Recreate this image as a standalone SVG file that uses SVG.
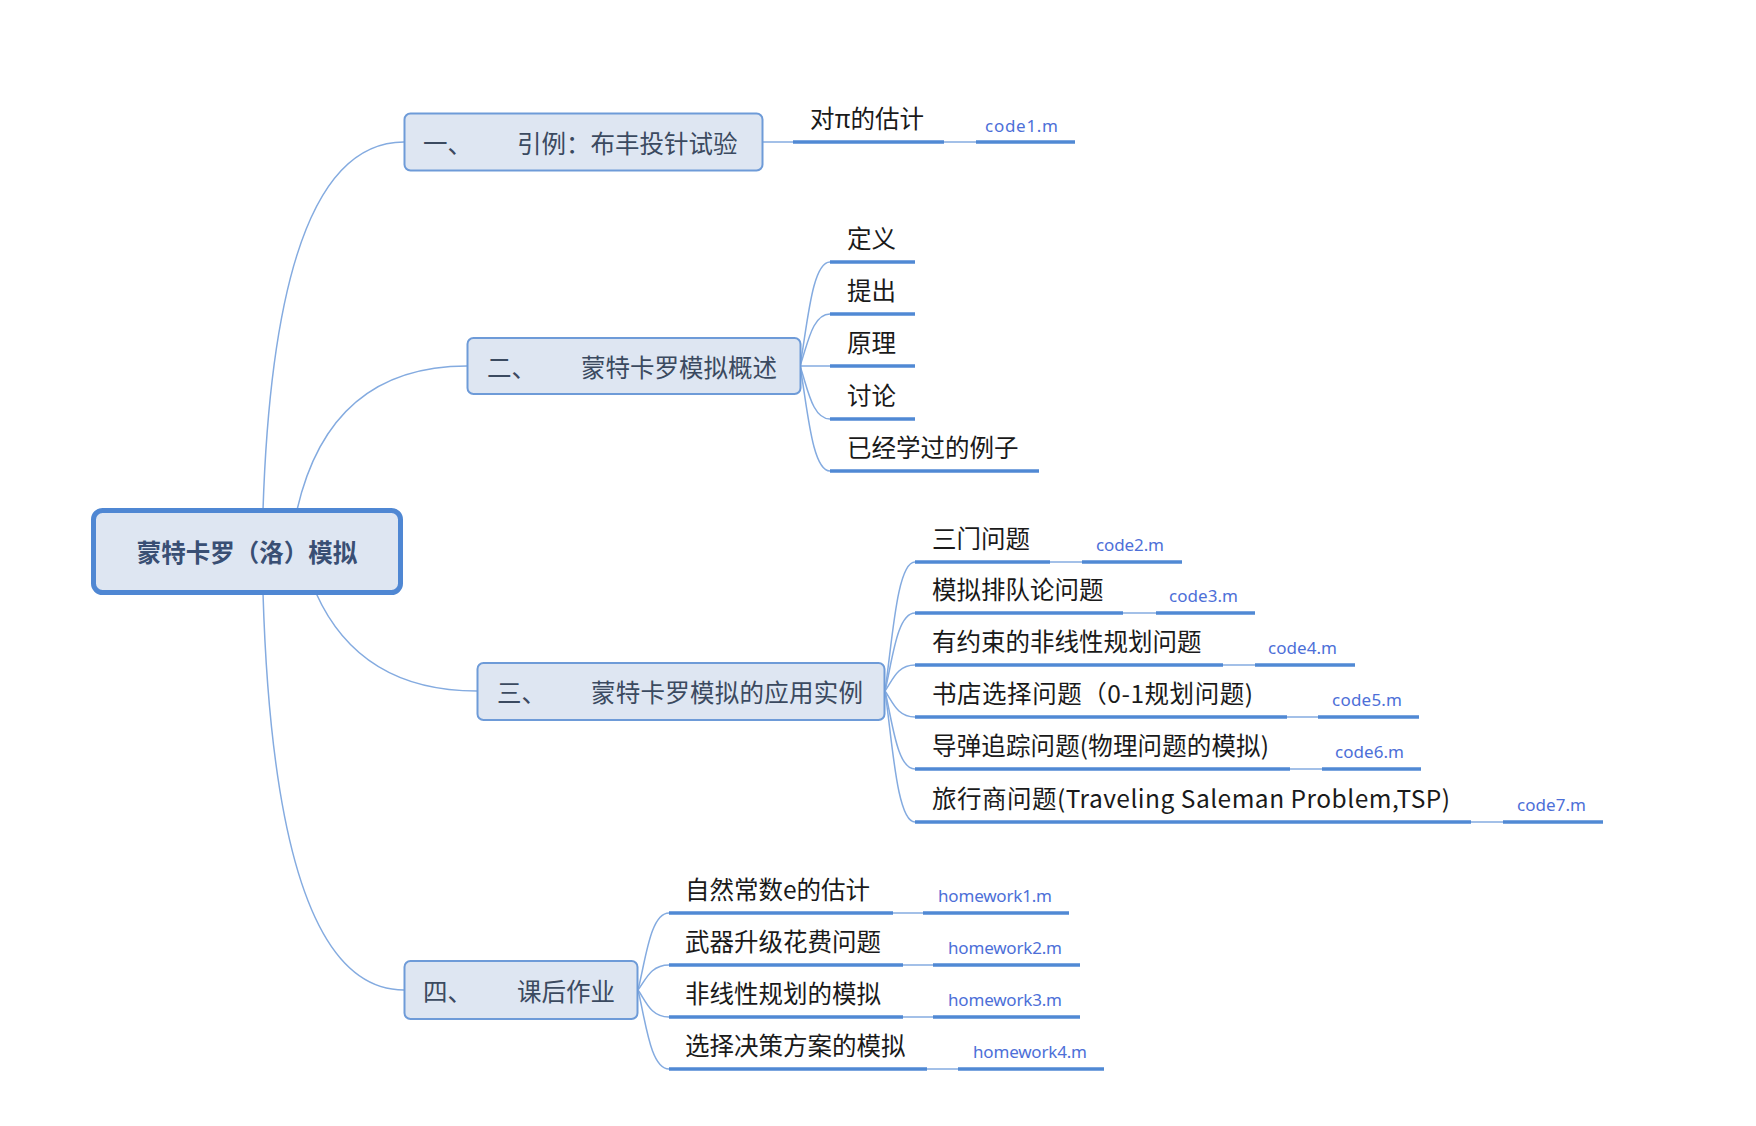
<svg xmlns="http://www.w3.org/2000/svg" width="1756" height="1126" viewBox="0 0 1756 1126">
<style>
.bg{fill:#ffffff}
.box{fill:#dee6f2;stroke:#6e9bd8;stroke-width:2}
.root{fill:#dee6f2;stroke:#4f87d3;stroke-width:5}
.conn{fill:none;stroke:#84abe0;stroke-width:1.5}
.ul{stroke:#5089d4;stroke-width:3.5;fill:none}
.bt{font-family:"Noto Sans CJK SC","Microsoft YaHei",sans-serif;font-size:24.5px;fill:#3b4a60;dominant-baseline:central}
.rt{font-family:"Noto Sans CJK SC","Microsoft YaHei",sans-serif;font-size:24.5px;font-weight:bold;fill:#394f74;dominant-baseline:central;text-anchor:middle}
.t{font-family:"Noto Sans CJK SC","Microsoft YaHei",sans-serif;font-size:24.5px;fill:#1a1a1a}
.c{font-family:"Noto Sans","Open Sans",sans-serif;font-size:17px;fill:#4d6fd8}
</style>
<rect class="bg" x="0" y="0" width="1756" height="1126"/>

<g id="connectors">
<path class="conn" d="M 263 510 Q 275 142 404 142"/>
<path class="conn" d="M 297 510 Q 330 366 467 366"/>
<path class="conn" d="M 316 593 Q 360 691 477 691"/>
<path class="conn" d="M 263 593 Q 275 990 404 990"/>

<path class="conn" d="M 763 142 L 793 142"/>
<path class="conn" d="M 944 142 L 976 142"/>

<path class="conn" d="M 800 366 C 807.5 324.4 812 262 830 262"/>
<path class="conn" d="M 800 366 C 807.5 345.2 812 314 830 314"/>
<path class="conn" d="M 800 366 L 830 366"/>
<path class="conn" d="M 800 366 C 807.5 387.2 812 419 830 419"/>
<path class="conn" d="M 800 366 C 807.5 408 812 471 830 471"/>

<path class="conn" d="M 885 691 C 892.5 639.4 897 562 915 562"/>
<path class="conn" d="M 885 691 C 892.5 659.8 897 613 915 613"/>
<path class="conn" d="M 885 691 C 892.5 680.6 897 665 915 665"/>
<path class="conn" d="M 885 691 C 892.5 701.4 897 717 915 717"/>
<path class="conn" d="M 885 691 C 892.5 722.2 897 769 915 769"/>
<path class="conn" d="M 885 691 C 892.5 743.4 897 822 915 822"/>
<path class="conn" d="M 1050 562 L 1082 562"/>
<path class="conn" d="M 1123 613 L 1156 613"/>
<path class="conn" d="M 1223 665 L 1255 665"/>
<path class="conn" d="M 1287 717 L 1318 717"/>
<path class="conn" d="M 1290 769 L 1322 769"/>
<path class="conn" d="M 1471 822 L 1503 822"/>

<path class="conn" d="M 638 990 C 645.75 959.2 650.4 913 669 913"/>
<path class="conn" d="M 638 990 C 645.75 980 650.4 965 669 965"/>
<path class="conn" d="M 638 990 C 645.75 1000.8 650.4 1017 669 1017"/>
<path class="conn" d="M 638 990 C 645.75 1021.6 650.4 1069 669 1069"/>
<path class="conn" d="M 893 913 L 923 913"/>
<path class="conn" d="M 903 965 L 933 965"/>
<path class="conn" d="M 903 1017 L 933 1017"/>
<path class="conn" d="M 927 1069 L 958 1069"/>
</g>

<g id="root">
<rect class="root" x="93.5" y="510.5" width="307" height="82" rx="9"/>
<text class="rt" x="247" y="551">蒙特卡罗（洛）模拟</text>
</g>

<g id="b1">
<rect class="box" x="404.5" y="113.5" width="358" height="57" rx="6"/>
<text class="bt" y="142"><tspan x="423">一、</tspan><tspan x="517">引例：布丰投针试验</tspan></text>
</g>
<g id="b1-1">
<line class="ul" x1="793" y1="142" x2="944" y2="142"/>
<text class="t" x="810" y="128">对π的估计</text>
</g>
<g id="b1-1c">
<line class="ul" x1="976" y1="142" x2="1075" y2="142"/>
<text class="c" x="985" y="132" textLength="73">code1.m</text>
</g>

<g id="b2">
<rect class="box" x="467.5" y="338" width="333" height="56" rx="6"/>
<text class="bt" y="366"><tspan x="487">二、</tspan><tspan x="581">蒙特卡罗模拟概述</tspan></text>
</g>
<g id="b2-1"><line class="ul" x1="830" y1="262" x2="915" y2="262"/><text class="t" x="847" y="248">定义</text></g>
<g id="b2-2"><line class="ul" x1="830" y1="314" x2="915" y2="314"/><text class="t" x="847" y="300">提出</text></g>
<g id="b2-3"><line class="ul" x1="830" y1="366" x2="915" y2="366"/><text class="t" x="847" y="352">原理</text></g>
<g id="b2-4"><line class="ul" x1="830" y1="419" x2="915" y2="419"/><text class="t" x="847" y="405">讨论</text></g>
<g id="b2-5"><line class="ul" x1="830" y1="471" x2="1039" y2="471"/><text class="t" x="847" y="457">已经学过的例子</text></g>

<g id="b3">
<rect class="box" x="477.5" y="663" width="407" height="57" rx="6"/>
<text class="bt" y="691"><tspan x="497">三、</tspan><tspan x="591" textLength="272">蒙特卡罗模拟的应用实例</tspan></text>
</g>
<g id="b3-1"><line class="ul" x1="915" y1="562" x2="1050" y2="562"/><text class="t" x="932" y="548">三门问题</text></g>
<g id="b3-1c"><line class="ul" x1="1082" y1="562" x2="1182" y2="562"/><text class="c" x="1096" y="551" textLength="68">code2.m</text></g>
<g id="b3-2"><line class="ul" x1="915" y1="613" x2="1123" y2="613"/><text class="t" x="932" y="599">模拟排队论问题</text></g>
<g id="b3-2c"><line class="ul" x1="1156" y1="613" x2="1255" y2="613"/><text class="c" x="1169" y="602" textLength="69">code3.m</text></g>
<g id="b3-3"><line class="ul" x1="915" y1="665" x2="1223" y2="665"/><text class="t" x="932" y="651">有约束的非线性规划问题</text></g>
<g id="b3-3c"><line class="ul" x1="1255" y1="665" x2="1355" y2="665"/><text class="c" x="1268" y="654" textLength="69">code4.m</text></g>
<g id="b3-4"><line class="ul" x1="915" y1="717" x2="1287" y2="717"/><text class="t" x="932" y="703" textLength="321">书店选择问题（0-1规划问题)</text></g>
<g id="b3-4c"><line class="ul" x1="1318" y1="717" x2="1419" y2="717"/><text class="c" x="1332" y="706" textLength="70">code5.m</text></g>
<g id="b3-5"><line class="ul" x1="915" y1="769" x2="1290" y2="769"/><text class="t" x="932" y="755" textLength="337">导弹追踪问题(物理问题的模拟)</text></g>
<g id="b3-5c"><line class="ul" x1="1322" y1="769" x2="1421" y2="769"/><text class="c" x="1335" y="758" textLength="69">code6.m</text></g>
<g id="b3-6"><line class="ul" x1="915" y1="822" x2="1471" y2="822"/><text class="t" x="932" y="808" textLength="518">旅行商问题(Traveling Saleman Problem,TSP)</text></g>
<g id="b3-6c"><line class="ul" x1="1503" y1="822" x2="1603" y2="822"/><text class="c" x="1517" y="811" textLength="69">code7.m</text></g>

<g id="b4">
<rect class="box" x="404.5" y="961" width="233" height="58" rx="6"/>
<text class="bt" y="990"><tspan x="423">四、</tspan><tspan x="517">课后作业</tspan></text>
</g>
<g id="b4-1"><line class="ul" x1="669" y1="913" x2="893" y2="913"/><text class="t" x="685" y="899">自然常数e的估计</text></g>
<g id="b4-1c"><line class="ul" x1="923" y1="913" x2="1069" y2="913"/><text class="c" x="938" y="902" textLength="114">homework1.m</text></g>
<g id="b4-2"><line class="ul" x1="669" y1="965" x2="903" y2="965"/><text class="t" x="685" y="951">武器升级花费问题</text></g>
<g id="b4-2c"><line class="ul" x1="933" y1="965" x2="1080" y2="965"/><text class="c" x="948" y="954" textLength="114">homework2.m</text></g>
<g id="b4-3"><line class="ul" x1="669" y1="1017" x2="903" y2="1017"/><text class="t" x="685" y="1003">非线性规划的模拟</text></g>
<g id="b4-3c"><line class="ul" x1="933" y1="1017" x2="1080" y2="1017"/><text class="c" x="948" y="1006" textLength="114">homework3.m</text></g>
<g id="b4-4"><line class="ul" x1="669" y1="1069" x2="927" y2="1069"/><text class="t" x="685" y="1055">选择决策方案的模拟</text></g>
<g id="b4-4c"><line class="ul" x1="958" y1="1069" x2="1104" y2="1069"/><text class="c" x="973" y="1058" textLength="114">homework4.m</text></g>
</svg>
